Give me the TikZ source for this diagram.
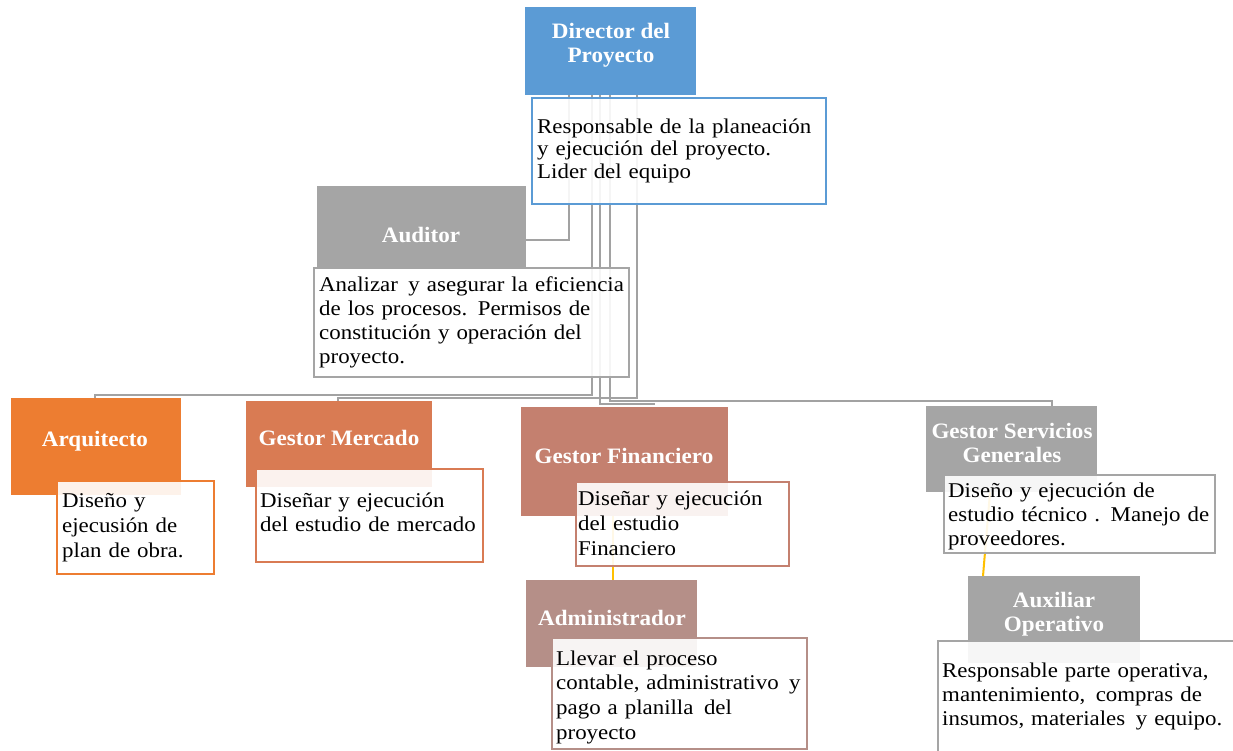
\documentclass[tikz,border=0pt]{standalone}
\usepackage{fontspec}
\setmainfont{Liberation Serif}[FakeStretch=1.09]
\newfontfamily\hdfont{Liberation Serif}[FakeStretch=1.05]
\usetikzlibrary{calc}
\definecolor{cDir}{HTML}{5B9BD5}
\definecolor{cGray}{HTML}{A5A5A5}
\definecolor{cArq}{HTML}{ED7D31}
\definecolor{cMer}{HTML}{D97B53}
\definecolor{cFin}{HTML}{C4806F}
\definecolor{cAdm}{HTML}{B58F88}
\definecolor{cYel}{HTML}{FFC000}
\definecolor{cLine}{HTML}{A2A2A2}
\begin{document}
\begin{tikzpicture}[x=1pt,y=-1pt,
  rolebox/.style={anchor=north west, inner sep=0pt},
  descbox/.style={anchor=north west, inner sep=0pt, fill=white, fill opacity=0.9, line width=2pt},
  roletext/.style={text=white, align=center, inner sep=0pt,
    font=\hdfont\bfseries\fontsize{22}{24}\selectfont},
  desctext/.style={anchor=base west, inner sep=0pt, text width=330pt, align=left,
    font=\fontsize{21}{#1}\selectfont},
  desctext/.default=24,
  conn/.style={draw=cLine, line width=2pt},
  yel/.style={draw=cYel, line width=2pt}]
\clip (0,0) rectangle (1233,750);
\fill[white] (0,0) rectangle (1233,750);

% role boxes (frames only; filled after the connectors)
\path (525,7) node[rolebox, minimum width=171pt, minimum height=88pt] (dir) {};
\path (317,186) node[rolebox, minimum width=209pt, minimum height=81pt] (aud) {};
\path (11,398) node[rolebox, minimum width=170pt, minimum height=97pt] (arq) {};
\path (246,401) node[rolebox, minimum width=186pt, minimum height=86pt] (mer) {};
\path (521,407) node[rolebox, minimum width=207pt, minimum height=109pt] (fin) {};
\path (526,580) node[rolebox, minimum width=171pt, minimum height=87pt] (adm) {};
\path (926,406) node[rolebox, minimum width=171pt, minimum height=86pt] (gsg) {};
\path (968,576) node[rolebox, minimum width=172pt, minimum height=87pt] (aux) {};

% connectors from the director
\draw[conn] ($(dir.south west)+(44,0)$) |- ($(aud.north east)+(0,54)$);
\draw[conn] ($(dir.south west)+(67,0)$) |- ($(arq.north west)+(84,-3)$) -- ($(arq.north west)+(84,0)$);
\draw[conn] ($(dir.south west)+(112,0)$) |- ($(mer.north west)+(92,-3)$) -- ($(mer.north west)+(92,0)$);
\draw[conn] ($(dir.south west)+(75,0)$) |- ($(fin.north west)+(134,-3)$);
\draw[conn] ($(dir.south west)+(85,0)$) |- ($(gsg.north west)+(126,-5)$) -- ($(gsg.north west)+(126,0)$);

% filled role boxes
\fill[cDir] (dir.north west) rectangle (dir.south east);
\fill[cGray] (aud.north west) rectangle (aud.south east);
\fill[cArq] (arq.north west) rectangle (arq.south east);
\fill[cMer] (mer.north west) rectangle (mer.south east);
\fill[cFin] (fin.north west) rectangle (fin.south east);
\fill[cAdm] (adm.north west) rectangle (adm.south east);
\fill[cGray] (gsg.north west) rectangle (gsg.south east);
\fill[cGray] (aux.north west) rectangle (aux.south east);

% subordinate links
\draw[yel] ($(fin.south west)+(92,0)$) -- ($(adm.north west)+(87,0)$);
\draw[yel] ($(gsg.south west)+(64,0)$) -- ($(aux.north west)+(15,0)$);

% role titles
\node[roletext] (dirT) at (611,45) {Director del\\Proyecto};
\node[roletext] (audT) at (421,235) {Auditor};
\node[roletext] (arqT) at (95,441) {Arquitecto};
\node[roletext] (merT) at (339,438) {Gestor Mercado};
\node[roletext] (finT) at (624,456) {Gestor Financiero};
\node[roletext] (admT) at (612,618) {Administrador};
\node[roletext] (gsgT) at (1012,443) {Gestor Servicios\\Generales};
\node[roletext] (auxT) at (1054,614) {Auxiliar\\Operativo};

% description boxes
\node[descbox, draw=cDir, minimum width=294pt, minimum height=106pt] (dirD) at (531,97) {};
\node[descbox, draw=cGray, minimum width=315pt, minimum height=109pt] (audD) at (313,267) {};
\node[descbox, draw=cArq, minimum width=157pt, minimum height=93pt] (arqD) at (56,480) {};
\node[descbox, draw=cMer, minimum width=227pt, minimum height=93pt] (merD) at (255,468) {};
\node[descbox, draw=cFin, minimum width=213pt, minimum height=84pt] (finD) at (575,481) {};
\node[descbox, draw=cAdm, minimum width=255pt, minimum height=111pt] (admD) at (551,637) {};
\node[descbox, draw=cGray, minimum width=271pt, minimum height=78pt] (gsgD) at (943,474) {};
\node[descbox, draw=cGray, minimum width=303pt, minimum height=120pt] (auxD) at (937,640) {};

% description texts
\node[desctext=22.5] (dirDT) at (537,133) {Responsable de la planeación\\y ejecución del proyecto.\\Lider del equipo};
\node[desctext] (audDT) at (319,291) {Analizar\enspace y asegurar la eficiencia\\de los procesos. Permisos de\\constitución y operación del\\proyecto.};
\node[desctext=25] (arqDT) at (62,507) {Diseño y\\ejecusión de\\plan de obra.};
\node[desctext] (merDT) at (260,507) {Diseñar y ejecución\\del estudio de mercado};
\node[desctext=25] (finDT) at (578,505) {Diseñar y ejecución\\del estudio\\Financiero};
\node[desctext=24.7] (admDT) at (556,665) {Llevar el proceso\\contable, administrativo\enspace y\\pago a planilla\enspace del\\proyecto};
\node[desctext] (gsgDT) at (948,497) {Diseño y ejecución de\\estudio técnico . Manejo de\\proveedores.};
\node[desctext] (auxDT) at (942,677) {Responsable parte operativa,\\mantenimiento,\enspace compras de\\insumos, materiales\enspace y equipo.};
\end{tikzpicture}
\end{document}
